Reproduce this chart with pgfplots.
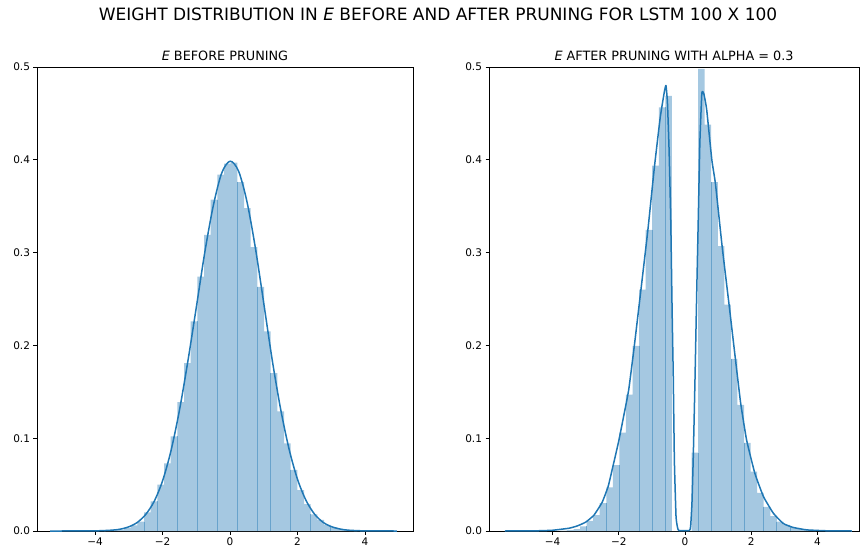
\documentclass[border=0pt]{standalone}
\usepackage{pgfplots}
\pgfplotsset{compat=1.18}
\usepackage{fontspec}
\setmainfont{DejaVu Sans}
\definecolor{sb}{HTML}{1F77B4}
\definecolor{sbbar}{HTML}{A5C8E1}
\pgfplotsset{
  myax/.style={
    anchor=south west, scale only axis,
    height=464pt, ymin=0, ymax=0.5,
    axis line style={line width=0.8pt},
    tick align=outside, tick pos=left,
    major tick length=3.5pt,
    every tick/.style={black, line width=0.8pt},
    xtick={-4,-2,0,2,4}, xticklabels={−4,−2,0,2,4},
    ytick={0,0.1,0.2,0.3,0.4,0.5},
    yticklabels={0.0,0.1,0.2,0.3,0.4,0.5},
    tick label style={font=\fontsize{10.5}{12}\selectfont},
    /pgf/number format/assume math mode=true,
  },
  hbar/.style={ybar interval, fill=sbbar, draw=none},
  edg/.style={ycomb, sb, draw opacity=0.45, line width=0.7pt, mark=none},
  kde/.style={sb, line width=1.5pt, line join=round},
}
\begin{document}
\begin{tikzpicture}
\useasboundingbox (0pt,0pt) rectangle (860pt,550pt);
\begin{axis}[myax, at={(37pt,19pt)}, width=376pt, xmin=-5.72, xmax=5.42]
\addplot[hbar] coordinates {
(-3.7325,0.0004) (-3.535,0.0008) (-3.3375,0.0015) (-3.14,0.003)
(-2.9425,0.006) (-2.745,0.010) (-2.5475,0.020) (-2.35,0.032)
(-2.1525,0.050) (-1.955,0.073) (-1.7575,0.102) (-1.56,0.139)
(-1.3625,0.181) (-1.165,0.226) (-0.9675,0.274) (-0.77,0.319)
(-0.5725,0.357) (-0.375,0.384) (-0.1775,0.396) (0.02,0.397)
(0.2175,0.376) (0.415,0.348) (0.6125,0.306) (0.81,0.263)
(1.0075,0.215) (1.205,0.170) (1.4025,0.129) (1.6,0.0945)
(1.7975,0.066) (1.995,0.044) (2.1925,0.029) (2.39,0.018)
(2.5875,0.012) (2.785,0.0065) (2.9825,0.004) (3.18,0.002)
(3.3775,0.001) (3.575,0.0005) (3.7725,0)
};
\addplot[edg] coordinates {
(-2.5475,0.010) (-2.1525,0.032) (-1.56,0.102) (-0.9675,0.226)
(-0.375,0.357) (0.2175,0.376) (0.81,0.263) (1.205,0.170)
(1.7975,0.066) (2.39,0.018) (2.9825,0.004)
};
\addplot[kde, smooth, tension=0.5] coordinates {
(-5.33,0) (-4.5,0.00002) (-4,0.00013) (-3.5,0.0009) (-3.25,0.002)
(-3,0.0045) (-2.75,0.0092) (-2.5,0.0178) (-2.25,0.0318) (-2,0.0540)
(-1.75,0.0865) (-1.5,0.1300) (-1.25,0.1830) (-1,0.2410) (-0.75,0.3000)
(-0.5,0.3500) (-0.25,0.3855) (0,0.3985) (0.25,0.3880) (0.5,0.3550)
(0.75,0.3050) (1,0.2450) (1.25,0.1840) (1.5,0.1310) (1.75,0.0880)
(2,0.0555) (2.25,0.0330) (2.5,0.0183) (2.75,0.0095) (3,0.0047)
(3.25,0.0022) (3.5,0.0009) (4,0.00014) (4.94,0)
};
\end{axis}
\begin{axis}[myax, at={(489pt,19pt)}, width=370pt, xmin=-5.917, xmax=5.253]
\addplot[hbar] coordinates {
(-3.762,0.0005) (-3.564,0.001) (-3.366,0.002) (-3.168,0.005)
(-2.970,0.011) (-2.772,0.017) (-2.574,0.030) (-2.376,0.047)
(-2.178,0.071) (-1.980,0.106) (-1.782,0.147) (-1.584,0.1995)
(-1.386,0.260) (-1.188,0.3245) (-0.990,0.3936) (-0.792,0.4565)
(-0.594,0.469) (-0.396,0) (-0.198,0) (0,0)
(0.198,0.0845) (0.396,0.498) (0.594,0.438) (0.792,0.376)
(0.990,0.307) (1.188,0.244) (1.386,0.1855) (1.584,0.136)
(1.782,0.095) (1.980,0.064) (2.178,0.041) (2.376,0.026)
(2.574,0.016) (2.772,0.010) (2.970,0.0065) (3.168,0.004)
(3.366,0.002) (3.564,0.001) (3.762,0.0005) (3.960,0)
};
\addplot[edg] coordinates {
(-2.970,0.005) (-2.376,0.030) (-1.980,0.071) (-1.386,0.1995)
(-0.990,0.3245) (-0.594,0.4565) (0.396,0.0845) (0.792,0.376)
(1.386,0.1855) (1.782,0.095) (2.376,0.026) (2.772,0.010) (3.168,0.004)
};
\addplot[kde, smooth, tension=0.25] coordinates {
(-5.44,0) (-4.5,0.0002) (-4.0,0.0008) (-3.5,0.003) (-3.25,0.0055)
(-3.0,0.0095) (-2.75,0.017) (-2.5,0.031) (-2.32,0.048) (-2.18,0.069)
(-2.0,0.097) (-1.85,0.124) (-1.70,0.152) (-1.53,0.1995) (-1.33,0.26)
(-1.12,0.3245) (-0.93,0.390) (-0.75,0.445) (-0.62,0.474) (-0.574,0.480)
(-0.53,0.462) (-0.48,0.41) (-0.43,0.335) (-0.39,0.24) (-0.353,0.163)
(-0.32,0.075) (-0.27,0.015) (-0.22,0.003) (-0.18,0.0005) (0.13,0.0005)
(0.17,0.005) (0.21,0.03) (0.25,0.08) (0.30,0.16) (0.35,0.25)
(0.40,0.335) (0.45,0.42) (0.51,0.472) (0.57,0.471) (0.655,0.454)
(0.81,0.40) (0.92,0.374) (1.12,0.307) (1.35,0.238) (1.5,0.192)
(1.68,0.138) (1.86,0.098) (2.11,0.062) (2.37,0.037) (2.67,0.019)
(2.97,0.008) (3.27,0.0038) (3.68,0.0012) (4.3,0.0002) (5.04,0)
};
\end{axis}
\node[anchor=base, font=\fontsize{17}{20}\selectfont] at (438pt,529pt)
  {WEIGHT DISTRIBUTION IN \textit{E} BEFORE AND AFTER PRUNING FOR LSTM 100 X 100};
\node[anchor=base, font=\fontsize{12.8}{15}\selectfont] at (225pt,489pt)
  {\textit{E} BEFORE PRUNING};
\node[anchor=base, font=\fontsize{12.8}{15}\selectfont] at (674pt,489pt)
  {\textit{E} AFTER PRUNING WITH ALPHA = 0.3};
\end{tikzpicture}
\end{document}
